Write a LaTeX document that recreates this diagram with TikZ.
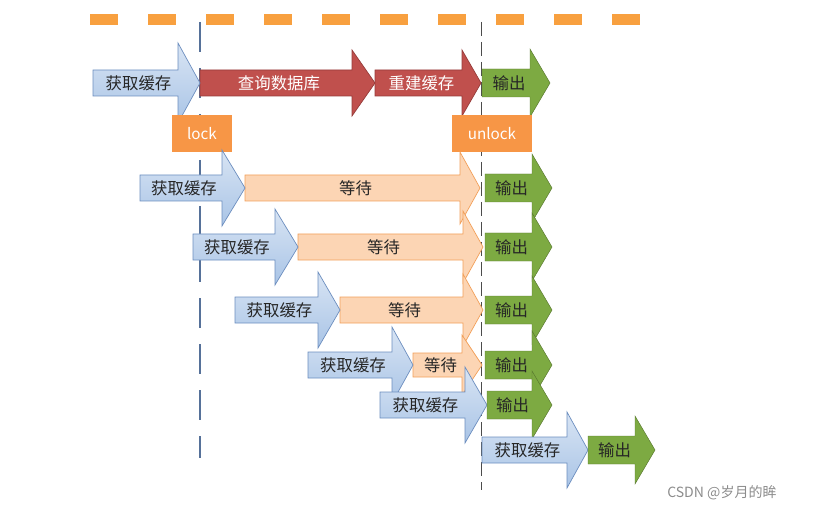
\documentclass[tikz,border=0pt]{standalone}
\usepackage{fontspec}
\setmainfont{Noto Sans CJK SC}
\usetikzlibrary{positioning}
\definecolor{getblue}{HTML}{A9C4E6}
\definecolor{getline}{HTML}{6C8EBF}
\definecolor{dbred}{HTML}{C0504D}
\definecolor{dbline}{HTML}{963C3A}
\definecolor{waitfill}{HTML}{FCD5B4}
\definecolor{waitline}{HTML}{F2A05A}
\definecolor{outgreen}{HTML}{7DAA42}
\definecolor{lockorange}{HTML}{F79646}
% #1 x start, #2 head start, #3 tip, #4 y centre, #5 body half, #6 head half, #7 style, #8 text, #9 name
\newcommand{\flowarrow}[9]{%
  \draw[#7] (#1,#4-#5) -- (#2,#4-#5) -- (#2,#4-#6) -- (#3,#4) -- (#2,#4+#6)
    -- (#2,#4+#5) -- (#1,#4+#5) -- cycle;
  \node[txt] (#9) at ({(#1+#2)/2+3},#4) {#8};
}
\begin{document}
\begin{tikzpicture}[x=0.03cm, y=-0.03cm,
  txt/.style={font=\fontsize{14}{16}\selectfont, text=black!85},
  get/.style={draw=getline, top color=getblue!45, bottom color=getblue, line width=0.6pt},
  db/.style={draw=dbline, fill=dbred, line width=0.6pt},
  wait/.style={draw=waitline, fill=waitfill, line width=0.6pt},
  outarrow/.style={draw=outgreen!70!black, fill=outgreen, line width=0.4pt},
  lockbox/.style={fill=lockorange, text=white, minimum height=37*0.03cm, font=\fontsize{13}{15}\selectfont, inner sep=0pt},
]
  \useasboundingbox (0,0) rectangle (813,512);
  % time axis
  \coordinate (axl) at (90,20);
  \coordinate (axr) at (650,20);
  \draw[lockorange!90!yellow, line width=11*0.03cm, dash pattern=on 28*0.03cm off 30*0.03cm] (axl) -- (axr);
  % lock / unlock lines
  \coordinate (lt) at (200,22);
  \coordinate (lb) at (200,458);
  \coordinate (ut) at (481,22);
  \coordinate (ub) at (481,490);
  \draw[getline!80!black, line width=1.6pt, dash pattern=on 30*0.03cm off 16*0.03cm] (lt) -- (lb);
  \draw[black!70, line width=0.6pt, dash pattern=on 14*0.03cm off 6*0.03cm] (ut) -- (ub);
  % row 1
  \flowarrow{200}{352}{375}{83}{13}{33}{db}{\textcolor{white}{查询数据库}}{q1}
  \flowarrow{375}{462}{481}{83}{13}{33}{db}{\textcolor{white}{重建缓存}}{r1}
  \flowarrow{93}{178}{200}{83}{13}{40}{get}{获取缓存}{g1}
  \flowarrow{482}{530}{550}{83}{14}{34}{outarrow}{输出}{o1}
  \node[lockbox, minimum width=60*0.03cm] (lock) at (202,134) {lock};
  \node[lockbox, minimum width=80*0.03cm] (unlock) at (492,134) {unlock};
  % waiting rows
  \foreach \xs/\xh/\xt/\yc/\xe/\n in {140/222/245/188/480/2, 193/275/298/247/483/3, 235/318/340/310/483/4}{
    \flowarrow{\xt}{\xe-20}{\xe}{\yc}{13}{36}{wait}{等待}{w\n}
    \flowarrow{\xs}{\xh}{\xt}{\yc}{13}{38}{get}{获取缓存}{g\n}
    \flowarrow{485}{532}{552}{\yc}{14}{34}{outarrow}{输出}{o\n}
  }
  % row 5
  \flowarrow{413}{462}{482}{365}{12}{30}{wait}{等待}{w5}
  \flowarrow{308}{392}{413}{365}{13}{38}{get}{获取缓存}{g5}
  \flowarrow{485}{532}{552}{365}{14}{34}{outarrow}{输出}{o5}
  % row 6
  \flowarrow{380}{465}{487}{405}{13}{38}{get}{获取缓存}{g6}
  \flowarrow{487}{532}{552}{405}{14}{34}{outarrow}{输出}{o6}
  % row 7
  \flowarrow{482}{567}{588}{450}{13}{38}{get}{获取缓存}{g7}
  \flowarrow{588}{635}{655}{450}{14}{34}{outarrow}{输出}{o7}
  % watermark
  \node[font=\fontsize{12}{14}\selectfont, text=black!45] (mark) at (722,493) {CSDN @岁月的眸};
\end{tikzpicture}
\end{document}
